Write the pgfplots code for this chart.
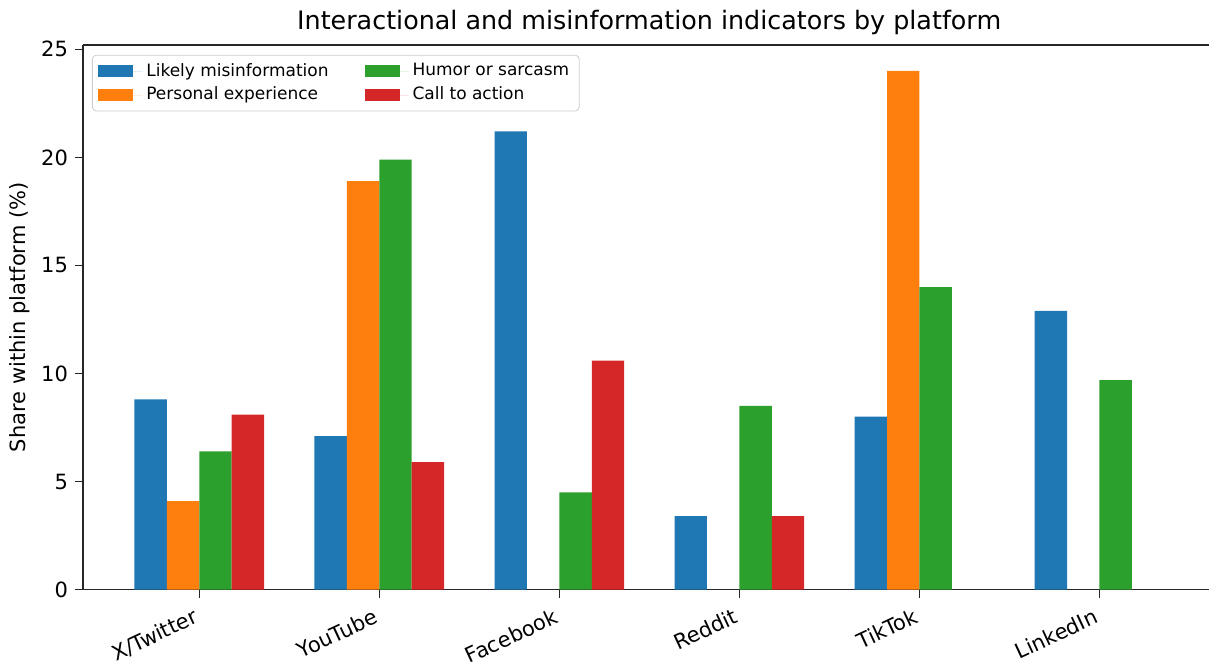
\documentclass[border=0pt]{standalone}
\usepackage{pgfplots}
\pgfplotsset{compat=1.18}
\usepackage{fontspec}
\setmainfont{DejaVu Sans}
\definecolor{cblue}{HTML}{1F77B4}
\definecolor{corange}{HTML}{FF7F0E}
\definecolor{cgreen}{HTML}{2CA02C}
\definecolor{cred}{HTML}{D62728}
\begin{document}
\begin{tikzpicture}
\begin{axis}[
  scale only axis,
  width=563.5pt, height=272.5pt,
  xmin=-0.646, xmax=5.61,
  ymin=0, ymax=25.2,
  axis x line=box, axis y line=left,
  axis line style={-, line width=0.7pt, black!85},
  xtick={0,1,2,3,4,5},
  xticklabels={X/Twitter,YouTube,Facebook,Reddit,TikTok,LinkedIn},
  xtick pos=bottom,
  ytick={0,5,10,15,20,25},
  tick align=outside,
  major tick length=4pt,
  tick style={line width=0.7pt, black!85},
  xticklabel style={rotate=25, anchor=north east, font=\fontsize{10.5}{12}\selectfont, inner sep=1pt, xshift=-4pt, yshift=-2pt},
  yticklabel style={font=\fontsize{10.5}{12}\selectfont},
  /pgf/number format/assume math mode=true,
  ylabel={Share within platform (\%)},
  every axis y label/.style={at={(rel axis cs:0,0.5)}, anchor=center, xshift=-31.5pt, rotate=90},
  ylabel style={font=\fontsize{10.5}{12}\selectfont},
  title={Interactional and misinformation indicators by platform},
  every axis title/.style={at={(rel axis cs:0.5,1)}, anchor=center, yshift=11pt, xshift=1.5pt},
  title style={font=\fontsize{12.7}{14}\selectfont},
  ybar, bar width=0.18,
  legend columns=2, transpose legend,
  legend cell align=left,
  legend style={at={(0.008,0.982)}, anchor=north west, draw=black!20, rounded corners=2pt,
    font=\fontsize{8.5}{9}\selectfont, row sep=0pt, inner xsep=3pt, inner ysep=2pt,
    /tikz/every even column/.append style={column sep=16pt}},
  legend image code/.code={\fill[#1, sharp corners] (0pt,-3pt) rectangle (17.5pt,3pt); \path (0pt,0pt) -- (22pt,0pt);},
  clip=false,
]
\addplot[fill=cblue, draw=none, bar shift=-0.27] coordinates {(0,8.8) (1,7.1) (2,21.2) (3,3.4) (4,8.0) (5,12.9)};
\addplot[fill=corange, draw=none, bar shift=-0.09] coordinates {(0,4.1) (1,18.9) (4,24.0)};
\addplot[fill=cgreen, draw=none, bar shift=0.09] coordinates {(0,6.4) (1,19.9) (2,4.5) (3,8.5) (4,14.0) (5,9.7)};
\addplot[fill=cred, draw=none, bar shift=0.27] coordinates {(0,8.1) (1,5.9) (2,10.6) (3,3.4)};
\legend{Likely misinformation, Personal experience, Humor or sarcasm, Call to action}
\path[use as bounding box] (rel axis cs:0,0) ++(-41.5pt,-35.5pt) rectangle (rel axis cs:1,1) ++(0pt,22.5pt);
\end{axis}
\end{tikzpicture}
\end{document}
